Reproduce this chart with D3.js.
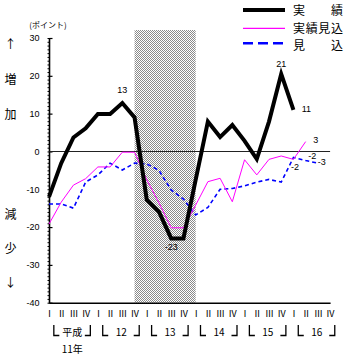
<!DOCTYPE html>
<html><head><meta charset="utf-8">
<script src="https://cdn.jsdelivr.net/npm/d3@7"></script>
<style>
html,body{margin:0;padding:0;background:#fff;}
svg{display:block;font-family:"Noto Sans CJK JP","Liberation Sans",sans-serif;}
</style></head>
<body><svg id="c" width="355" height="358"></svg>
<script>
// ---- data ----
const quarterNames = ["Ⅰ","Ⅱ","Ⅲ","Ⅳ"];
const years = ["11","12","13","14","15","16"];
const yearLabels = ["平成","12","13","14","15","16"];
const firstYearSuffix = "11年";
const periods = years.flatMap(yy => quarterNames.map((q, i) => yy + "-" + (i + 1)));
const seriesNames = ["実　　績", "実績見込", "見　　込"];
// 実績
const actual = [-12.0, -3.1, 3.7, 6.1, 9.9, 9.9, 12.8, 9.0, -12.8, -16.0, -23.0, -23.0,
                -7.5, 7.9, 3.8, 7.0, 2.8, -2.0, 7.9, 20.5, 11.0];
// 実績見込
const actualEst = [-19.2, -13.4, -8.9, -7.2, -4.1, -4.1, -0.2, -0.2, -7.5, -13.6, -20.2, -20.2,
                   -14.2, -8.0, -7.1, -13.3, -2.2, -6.2, -2.1, -1.2, -2.1, 2.6];
// 見込
const forecast = [-13.9, -13.9, -15.0, -8.1, -6.2, -3.1, -4.9, -3.1, -3.3, -5.0, -10.2, -12.6,
                  -16.8, -14.8, -10.0, -9.8, -9.1, -8.1, -7.4, -8.1, -1.6, -2.4, -3.1];
const recession = ["12-4", "14-1"];
const yTickValues = [30, 20, 10, 0, -10, -20, -30, -40];
const yUnit = "(ポイント)";
const upLabels = ["↑", "増", "加"];
const downLabels = ["減", "少", "↓"];
// labelled points: [series index, point index]
const labelPoints = [[0, 6], [0, 10], [0, 19], [0, 20], [1, 21], [2, 20], [2, 21], [2, 22]];

// ---- layout / style ----
const FONT = "'Noto Sans CJK JP','Liberation Sans',sans-serif";
const NUMFONT = "'Liberation Sans',sans-serif";
const labelOffsets = [[0, -13], [0, 8.5], [0, -10], [13, -1], [10, -2], [1.5, 9.5], [6.5, -4.5], [4, -1.5]];
const colors = ["#000000", "#ff00ff", "#0000ff"];
const widths = [4, 1, 1.6];
const dashes = [null, null, "4,3"];

const svg = d3.select("#c");
const x = d3.scalePoint().domain(periods).range([49, 330.1]);
const y = d3.scaleLinear().domain([-40, 30]).range([302.7, 38]);

// shading pattern
const defs = svg.append("defs");
const pat = defs.append("pattern").attr("id", "chk").attr("width", 2).attr("height", 2)
  .attr("patternUnits", "userSpaceOnUse");
pat.append("rect").attr("width", 2).attr("height", 2).attr("fill", "#fff");
pat.append("rect").attr("x", 0).attr("y", 0).attr("width", 1).attr("height", 1).attr("fill", "#8a8a8a");
pat.append("rect").attr("x", 1).attr("y", 1).attr("width", 1).attr("height", 1).attr("fill", "#8a8a8a");

svg.append("rect")
  .attr("x", x(recession[0])).attr("y", 30)
  .attr("width", x(recession[1]) - x(recession[0]))
  .attr("height", y(-40) - 30)
  .attr("fill", "url(#chk)");

// y axis: minor ticks (left), major ticks (inside), labels
const yMinor = d3.axisLeft(y).tickValues(d3.range(-40, 31, 1)).tickSize(2).tickFormat("");
const gMinor = svg.append("g").attr("transform", "translate(49.5,0)").call(yMinor);
gMinor.select(".domain").remove();
gMinor.selectAll("line").attr("stroke", "#000");

const yMajor = d3.axisRight(y).tickValues(yTickValues).tickSize(3).tickFormat("");
const gMajor = svg.append("g").attr("transform", "translate(49.5,0)").call(yMajor);
gMajor.select(".domain").remove();
gMajor.selectAll("line").attr("stroke", "#000").attr("stroke-width", 1.2);

const yLab = d3.axisLeft(y).tickValues(yTickValues).tickSize(0).tickPadding(10)
  .tickFormat(d => String(d).replace("−", "-"));
const gLab = svg.append("g").attr("transform", "translate(49.5,0)").call(yLab);
gLab.attr("font-family", NUMFONT);
gLab.select(".domain").remove();
gLab.selectAll("text").attr("font-size", 9).attr("fill", "#000").attr("font-family", NUMFONT);

svg.append("line").attr("x1", 49.5).attr("x2", 49.5).attr("y1", y(30)).attr("y2", y(-40) + 0.7)
  .attr("stroke", "#000").attr("stroke-width", 1.6);

// x axis
const xAx = d3.axisBottom(x).tickSize(0).tickPadding(8)
  .tickFormat(d => quarterNames[+d.split("-")[1] - 1]);
const gX = svg.append("g").attr("transform", `translate(0,${y(-40)})`).call(xAx);
gX.attr("font-family", FONT);
gX.select(".domain").attr("stroke", "#000").attr("stroke-width", 1.4);
gX.selectAll("text").attr("font-size", 9).attr("fill", "#000").attr("font-family", FONT);

// year groups
years.forEach((yy, k) => {
  const cx = x(yy + "-2") + (x(yy + "-3") - x(yy + "-2")) / 2 + 5;
  const g = svg.append("g");
  g.append("path").attr("d", `M${cx - 18.5},325 V335.5 H${cx - 13}`)
    .attr("fill", "none").attr("stroke", "#000").attr("stroke-width", 1.3);
  g.append("path").attr("d", `M${cx + 12.5},335.5 H${cx + 18} V325`)
    .attr("fill", "none").attr("stroke", "#000").attr("stroke-width", 1.3);
  g.append("text").attr("x", cx).attr("y", 331.5).attr("text-anchor", "middle")
    .attr("dominant-baseline", "central").attr("font-size", 10).attr("font-family", FONT)
    .text(yearLabels[k]);
  if (k === 0) {
    g.append("text").attr("x", cx).attr("y", 348).attr("text-anchor", "middle")
      .attr("dominant-baseline", "central").attr("font-size", 10).attr("font-family", FONT)
      .text(firstYearSuffix);
  }
});

// zero line
svg.append("line").attr("x1", 49.5).attr("x2", x(periods[periods.length - 1]))
  .attr("y1", Math.round(y(0)) + 0.5).attr("y2", Math.round(y(0)) + 0.5)
  .attr("stroke", "#222").attr("stroke-width", 1);

// series lines
const seriesData = [actual, actualEst, forecast];
const line = d3.line().x((d, i) => x(periods[i])).y(d => y(d));
[2, 1, 0].forEach(s => {
  const p = svg.append("path").datum(seriesData[s]).attr("d", line)
    .attr("fill", "none").attr("stroke", colors[s]).attr("stroke-width", widths[s]);
  if (dashes[s]) p.attr("stroke-dasharray", dashes[s]);
});

// data labels
labelPoints.forEach(([s, i], k) => {
  const v = seriesData[s][i];
  svg.append("text")
    .attr("x", x(periods[i]) + labelOffsets[k][0])
    .attr("y", y(v) + labelOffsets[k][1])
    .attr("text-anchor", "middle").attr("dominant-baseline", "central")
    .attr("font-size", 9).attr("font-family", NUMFONT)
    .text(String(Math.round(v)));
});

// unit label
svg.append("text").attr("x", 48).attr("y", 24).attr("text-anchor", "middle")
  .attr("dominant-baseline", "central").attr("font-size", 8).attr("font-family", FONT).text(yUnit);

// side labels
const upY = [43, 78, 113], downY = [213.5, 247.5, 281.5];
upLabels.forEach((t, i) => svg.append("text").attr("x", 10.5).attr("y", upY[i])
  .attr("text-anchor", "middle").attr("dominant-baseline", "central").attr("font-size", 12)
  .attr("font-family", FONT).text(t));
downLabels.forEach((t, i) => svg.append("text").attr("x", 10.5).attr("y", downY[i])
  .attr("text-anchor", "middle").attr("dominant-baseline", "central").attr("font-size", 12)
  .attr("font-family", FONT).text(t));

// legend
const legLineY = [10, 28.3, 43.3];
const legTextY = [9.2, 27.5, 44.7];
const legW = [4, 1.2, 2.5];
const legDash = [null, null, "10,5"];
seriesNames.forEach((name, s) => {
  const l = svg.append("line").attr("x1", 243).attr("x2", 285).attr("y1", legLineY[s]).attr("y2", legLineY[s])
    .attr("stroke", colors[s]).attr("stroke-width", legW[s]);
  if (legDash[s]) l.attr("stroke-dasharray", legDash[s]);
  svg.append("text").attr("x", 293).attr("y", legTextY[s]).attr("dominant-baseline", "central")
    .attr("font-size", 12).attr("textLength", 50).attr("lengthAdjust", "spacing")
    .attr("font-family", FONT).text(name);
});
</script></body></html>
